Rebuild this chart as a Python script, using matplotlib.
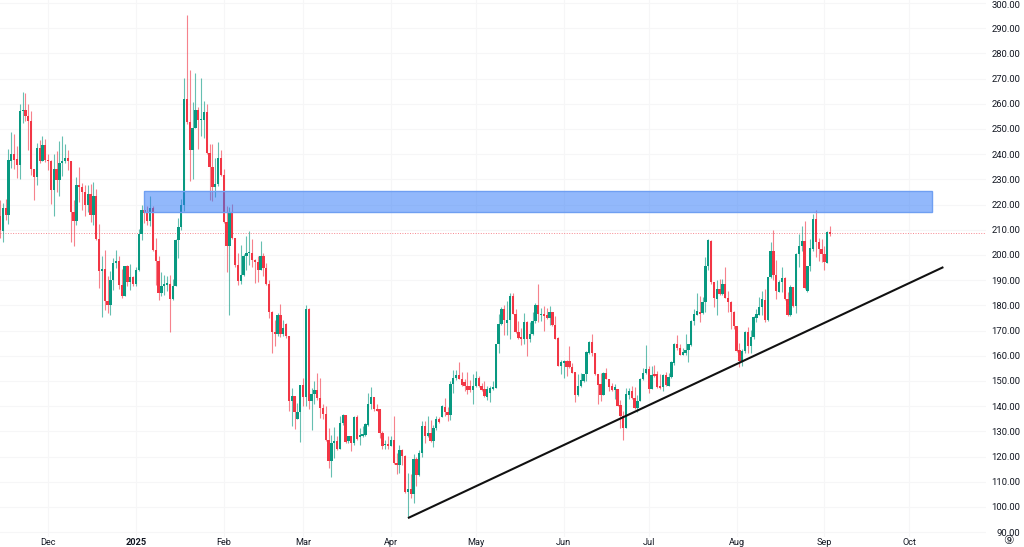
import matplotlib
matplotlib.use("Agg")
import matplotlib.pyplot as plt
import matplotlib.dates as mdates
import matplotlib.transforms as mtrans
import pandas as pd
from matplotlib.patches import Rectangle

opens = [
215.6,209.7,218.7,216.0,237.4,240.2,238.0,235.6,257.0,257.6,
255.0,253.0,234.3,230.8,242.5,237.4,243.7,237.8,237.2,225.9,
234.3,229.6,236.4,237.3,238.5,237.3,216.9,213.6,227.8,227.0,
224.9,220.0,224.3,216.0,223.3,206.3,193.5,194.4,181.6,180.3,
190.0,196.8,197.5,188.2,183.9,195.5,189.3,191.1,188.6,194.2,
208.5,218.0,216.7,213.4,218.5,202.1,197.5,184.9,187.8,188.2,
188.5,182.7,187.8,206.1,211.1,220.0,262.0,252.6,241.8,250.4,
257.4,253.4,253.6,256.6,240.5,234.8,226.9,228.2,238.5,231.6,
213.0,203.5,216.7,206.8,196.2,189.6,192.2,199.5,200.6,200.8,
198.2,197.1,194.2,199.5,194.9,188.3,177.4,169.3,168.8,176.1,
168.8,172.8,168.0,142.0,144.2,135.0,137.6,148.3,143.7,178.6,
142.0,144.9,146.6,143.3,139.3,136.9,126.5,118.1,125.4,126.3,
123.0,133.4,136.5,126.0,128.0,125.2,135.7,127.8,128.3,128.5,
132.4,140.8,143.7,138.7,138.7,129.4,124.5,124.8,124.4,126.7,
117.5,116.8,122.8,120.1,105.9,107.2,105.3,119.1,112.6,121.5,
132.3,128.1,129.4,126.1,131.4,135.0,135.7,139.7,137.7,136.4,
149.0,151.0,152.5,150.8,149.5,148.2,147.9,146.3,148.2,151.0,
148.2,147.0,143.6,145.3,146.9,147.3,164.5,172.8,178.4,173.0,
174.4,183.9,176.6,169.5,167.5,166.5,173.5,166.7,168.8,173.7,
180.0,176.0,176.4,176.0,175.0,177.4,172.4,167.1,156.1,157.2,
158.1,157.9,155.6,153.5,144.4,148.2,150.0,152.6,161.2,165.5,
161.2,152.6,148.9,144.6,153.2,150.8,147.9,146.3,146.9,140.3,
136.3,131.4,144.6,146.0,143.3,139.1,142.2,150.8,153.2,154.8,
146.9,152.8,152.6,147.9,147.7,152.2,148.2,151.6,157.2,164.5,
163.1,160.5,161.2,162.2,164.2,173.7,176.1,177.3,176.9,181.2,
195.5,205.7,189.2,182.6,186.5,184.5,188.5,183.0,181.2,177.5,
172.0,162.3,158.1,162.0,169.3,163.8,167.4,175.0,176.3,179.5,
182.3,174.2,191.2,201.5,192.2,185.5,189.2,190.8,182.6,176.0,
187.5,179.7,200.2,203.7,205.7,185.9,195.5,202.4,214.3,205.0,
202.4,200.2,196.9,209.3]

highs = [
222.0,220.6,222.2,242.2,248.8,248.0,243.1,260.1,264.7,264.4,
260.1,257.0,234.3,244.4,245.8,247.2,246.0,240.2,237.8,240.2,
241.4,245.1,247.4,244.0,241.8,237.3,222.0,231.0,234.9,228.6,
227.6,227.9,228.3,229.0,226.2,212.4,199.5,202.1,191.5,193.5,
198.8,202.1,199.7,194.4,195.8,196.2,196.4,191.5,195.2,210.3,
220.0,219.3,219.3,223.3,219.3,206.7,199.5,193.1,192.2,191.5,
192.0,190.5,206.3,214.7,222.2,270.2,295.4,273.5,260.6,272.2,
258.7,270.2,261.0,260.1,244.2,244.2,238.5,244.7,241.8,234.3,
219.3,219.1,220.4,206.8,200.8,203.9,200.2,207.7,209.4,206.4,
198.6,199.5,205.7,200.6,196.9,190.0,177.7,174.4,177.0,180.7,
174.4,173.0,168.0,147.2,144.2,141.3,148.6,151.2,180.2,179.0,
147.2,149.9,153.2,151.0,141.0,140.2,131.4,128.7,131.8,128.0,
136.3,136.9,136.7,128.3,128.0,136.3,136.7,131.4,132.0,133.4,
145.3,147.6,143.7,140.8,138.7,130.0,126.7,128.0,128.3,136.3,
121.5,124.8,123.0,120.8,113.3,113.0,121.2,119.9,122.5,134.0,
134.0,136.0,134.4,132.7,136.3,135.7,140.6,143.3,139.7,149.9,
154.3,154.5,157.4,153.5,150.8,153.5,150.3,152.6,153.9,151.9,
149.3,150.0,148.0,148.0,149.9,164.7,176.4,179.3,180.3,181.7,
185.0,185.0,178.4,173.7,171.1,177.0,174.0,173.5,177.3,181.0,
188.3,179.0,179.7,179.0,179.7,177.4,175.7,167.5,158.5,158.5,
158.5,163.8,157.2,153.5,152.6,153.0,152.6,161.8,166.0,168.6,
161.2,152.6,153.2,153.5,155.2,150.8,149.3,149.0,146.9,142.6,
138.0,147.3,147.3,148.2,147.5,144.6,151.2,155.2,164.1,156.1,
155.9,156.4,153.9,152.6,152.6,153.6,153.2,157.9,165.1,168.4,
164.5,163.1,168.8,164.5,174.4,178.4,185.0,183.9,183.5,199.4,
206.4,206.0,189.2,189.9,190.5,190.5,195.1,185.9,181.6,177.9,
172.0,165.0,162.7,170.0,171.6,170.3,175.6,178.6,183.2,185.9,
186.5,191.4,205.0,210.0,198.0,190.0,195.4,191.2,185.2,187.9,
187.5,200.7,208.4,211.7,213.4,195.8,206.4,216.3,217.9,206.8,
206.4,203.7,209.7,211.7]

lows = [
206.7,205.0,214.0,212.4,234.5,234.3,230.6,230.3,252.4,253.0,
241.5,231.6,221.7,227.9,236.5,237.2,236.9,233.9,220.4,215.3,
224.9,223.3,231.2,236.5,233.9,205.2,203.4,211.8,220.9,218.0,
215.3,216.9,213.0,211.8,206.1,186.9,175.4,178.3,177.0,176.3,
186.0,194.8,186.5,182.9,183.6,187.6,186.0,187.8,187.8,193.5,
205.8,212.7,212.0,211.6,201.5,188.2,182.3,183.6,184.3,185.6,
169.6,182.0,187.6,198.8,210.0,217.3,252.0,229.5,230.2,250.4,
242.2,247.4,246.4,240.2,222.0,221.3,223.0,227.3,231.2,212.7,
193.1,176.3,206.4,195.3,187.9,188.3,191.6,194.2,196.2,195.3,
188.7,189.2,193.9,191.6,187.9,175.0,161.1,164.0,167.8,167.5,
167.8,167.1,138.0,132.3,131.0,134.8,125.7,140.0,140.2,139.0,
130.7,141.0,142.6,135.3,135.0,126.1,115.5,112.1,119.5,122.5,
123.0,132.7,125.4,125.4,122.1,124.8,126.7,124.8,127.8,128.1,
132.3,138.7,138.0,138.0,127.4,123.0,123.0,123.0,124.1,117.2,
112.9,113.5,116.8,105.6,96.0,103.6,101.6,108.5,112.2,119.9,
125.4,127.8,125.8,123.7,130.7,133.4,135.7,136.0,134.0,134.7,
145.3,150.5,150.6,148.0,146.0,145.0,145.6,140.7,147.7,147.7,
146.2,143.7,142.6,141.6,146.6,147.3,161.2,172.4,168.4,168.4,
166.5,176.4,169.1,166.7,164.2,164.7,159.9,165.4,168.4,173.1,
173.5,173.7,169.8,174.5,172.1,171.7,166.5,155.9,152.6,151.2,
151.9,155.2,153.0,141.7,144.2,147.7,149.5,150.0,160.9,159.8,
152.3,141.0,142.0,144.4,150.6,146.2,146.0,142.9,140.0,131.4,
126.4,131.4,142.9,142.9,139.0,137.6,142.0,150.3,152.6,145.3,
146.9,151.6,147.3,146.9,146.0,148.2,147.9,151.2,156.5,162.5,
160.2,160.2,160.5,157.5,163.8,172.4,176.1,173.6,176.6,177.3,
194.1,188.5,179.3,176.0,184.3,184.3,183.0,177.3,170.7,170.7,
161.4,155.7,156.1,161.0,161.0,161.0,166.7,173.3,176.0,176.0,
173.3,173.7,190.9,189.9,182.6,185.2,185.2,182.2,175.6,175.6,
179.5,176.9,195.1,201.5,186.5,185.5,193.5,201.7,199.4,197.5,
197.1,194.1,196.9,207.4]

closes = [
209.8,218.7,216.0,237.8,240.2,237.8,235.6,257.0,257.6,255.0,
253.0,234.3,230.8,242.5,237.4,243.7,237.8,237.2,225.9,234.3,
229.6,236.4,237.3,238.5,237.3,216.9,213.6,227.8,227.0,224.9,
220.0,224.3,216.0,223.3,206.3,193.5,194.4,181.6,180.3,190.0,
196.8,197.5,188.2,183.9,195.5,189.3,191.1,188.6,194.2,208.5,
218.0,216.7,213.4,218.5,202.1,197.5,184.9,187.8,188.2,188.5,
182.7,187.8,206.1,211.1,220.0,262.0,252.6,241.8,250.4,257.4,
253.4,253.6,256.6,240.5,234.8,226.9,228.2,238.5,231.6,213.0,
203.5,216.7,206.8,196.2,189.6,192.2,199.5,200.6,200.8,198.2,
197.1,194.2,199.5,194.9,188.3,177.4,169.3,168.8,176.1,168.8,
171.1,168.0,142.0,144.2,137.6,137.6,148.3,143.7,178.6,142.0,
144.9,146.6,143.3,139.3,136.9,126.5,118.1,125.4,126.3,123.0,
133.4,136.5,125.8,128.0,125.4,135.7,127.1,128.7,128.7,133.0,
141.0,143.7,138.7,138.0,129.4,124.4,124.8,124.4,126.7,117.5,
116.8,122.8,120.1,105.9,107.2,105.3,119.1,112.6,121.5,132.3,
128.1,129.4,126.1,131.4,135.0,133.8,140.0,137.7,136.4,149.0,
151.0,152.5,150.6,148.6,147.9,146.3,146.3,148.2,151.0,147.9,
146.6,144.0,147.0,147.3,147.5,164.5,172.8,178.4,174.1,174.4,
183.9,176.4,169.5,167.1,166.5,173.5,166.7,168.8,173.7,180.0,
176.4,176.4,175.7,175.0,177.3,172.1,166.7,156.1,157.5,158.1,
155.6,155.5,153.2,144.4,148.2,150.3,152.6,161.6,165.5,161.2,
152.6,148.6,144.6,153.2,150.8,147.5,146.3,147.5,140.0,136.3,
131.5,144.9,146.0,143.3,139.1,142.2,150.8,153.2,154.8,146.9,
152.3,151.9,147.5,147.3,152.2,148.6,151.6,157.5,164.5,162.9,
160.5,161.4,162.5,164.5,174.0,176.4,177.7,176.6,181.2,195.8,
206.0,189.2,182.8,186.5,184.5,188.5,183.0,181.2,177.3,171.7,
162.0,158.1,162.0,169.3,163.8,167.6,175.3,176.6,179.5,182.6,
174.2,191.4,201.5,192.2,185.6,189.4,190.8,182.6,176.0,187.5,
179.9,200.2,203.7,205.7,186.9,195.5,202.7,214.3,205.0,202.4,
200.2,197.1,209.3,208.4]

start_date = "2024-11-14"
month_dates = ["2024-12-01","2025-01-01","2025-02-01","2025-03-01","2025-04-01","2025-05-01",
               "2025-06-01","2025-07-01","2025-08-01","2025-09-01","2025-10-01"]
month_labels = ["Dec","2025","Feb","Mar","Apr","May","Jun","Jul","Aug","Sep","Oct"]
price_ticks = list(range(90, 301, 10))
zone_dates = ["2025-01-04", "2025-10-09"]
zone_prices = [217.2, 225.3]
trend_dates = ["2025-04-07", "2025-10-13"]
trend_prices = [95.6, 195.2]
last_price = 208.7

UP, DOWN = "#089981", "#f23645"
n = min(len(opens), len(highs), len(lows), len(closes))
dates = pd.date_range(start_date, periods=n)
xs = mdates.date2num(dates)

plt.rcParams["font.family"] = ["Roboto", "DejaVu Sans"]
W, H = 1024, 547
fig = plt.figure(figsize=(W/100, H/100), dpi=100, facecolor="white")
AX_R, AX_B = 986, 537
ax = fig.add_axes([0, (H-AX_B)/H, AX_R/W, AX_B/H])
PX_PER_DAY = 2.833
x0 = xs[0]
ax.set_xlim(x0, x0 + AX_R/PX_PER_DAY)
PX_PER_UNIT = 2.52
ymax = 300 + 3/PX_PER_UNIT
ax.set_ylim(ymax - AX_B/PX_PER_UNIT, ymax)

for s in ax.spines.values():
    s.set_visible(False)
ax.set_axisbelow(True)
ax.grid(True, color="#f6f6f7", lw=0.8)

ax.set_xticks(mdates.date2num(pd.to_datetime(month_dates)))
ax.set_xticklabels(month_labels, fontsize=6.6, color="#131722")
ax.get_xticklabels()[1].set_fontweight("bold")
ax.tick_params(axis="x", length=0, pad=0.4)
ax.yaxis.tick_right()
ax.set_yticks(price_ticks)
ax.set_yticklabels([f"{p:.2f}" for p in price_ticks], fontsize=6.8, color="#131722", ha="right")
ax.tick_params(axis="y", length=0, pad=24.5)
top_label = ax.get_yticklabels()[-1]
top_label.set_transform(top_label.get_transform() + mtrans.ScaledTranslation(0, -2/100, fig.dpi_scale_trans))

colors = [UP if c >= o else DOWN for o, c in zip(opens[:n], closes[:n])]
ax.vlines(xs, lows[:n], highs[:n], colors=colors, lw=0.8, alpha=0.62, zorder=3)
bottoms = [min(o, c) for o, c in zip(opens[:n], closes[:n])]
heights = [max(abs(c-o), 0.5) for o, c in zip(opens[:n], closes[:n])]
ax.bar(xs, heights, bottom=bottoms, width=0.82, color=colors, lw=0, zorder=4)

ax.axhline(last_price, color=DOWN, lw=0.7, ls=(0, (1, 1.6)), alpha=0.6, zorder=2)

zx = mdates.date2num(pd.to_datetime(zone_dates))
ax.add_patch(Rectangle((zx[0], zone_prices[0]), zx[1]-zx[0], zone_prices[1]-zone_prices[0],
                       facecolor="#2f78f8", alpha=0.52, edgecolor="none", zorder=5))
ax.add_patch(Rectangle((zx[0], zone_prices[0]), zx[1]-zx[0], zone_prices[1]-zone_prices[0],
                       facecolor="none", edgecolor="#6f9ff2", lw=1, zorder=5))

tx = mdates.date2num(pd.to_datetime(trend_dates))
ax.plot(tx, trend_prices, color="#111111", lw=1.5, zorder=6, solid_capstyle="butt")

fig.text(1008/W, 1-541/H, "⑨", fontsize=8.5, color="#131722", ha="center", va="center",
         family=["DejaVu Sans"])

fig.savefig("out.png", dpi=100, facecolor="white")
